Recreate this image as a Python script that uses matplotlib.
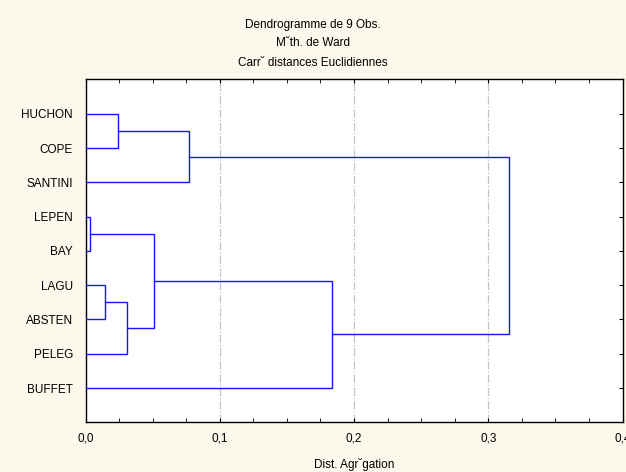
import matplotlib
matplotlib.use("Agg")
import matplotlib.pyplot as plt
from matplotlib.ticker import MultipleLocator, FuncFormatter

plt.rcParams['font.family'] = ['Liberation Sans', 'DejaVu Sans']
plt.rcParams['font.size'] = 8.5

# observations, top to bottom
labels = ['HUCHON', 'COPE', 'SANTINI', 'LEPEN', 'BAY',
          'LAGU', 'ABSTEN', 'PELEG', 'BUFFET']

# Ward merges: (cluster a, cluster b, aggregation distance)
# new clusters get ids 9, 10, ... in order
merge_a = [0, 9, 3, 5, 12, 11, 14, 10]
merge_b = [1, 2, 4, 6, 7, 13, 8, 15]
merge_h = [0.024, 0.0773, 0.0034, 0.0148, 0.0307, 0.0513, 0.1834, 0.3155]

bg = '#fdf8ec'
blue = '#1515ff'

fig = plt.figure(figsize=(6.26, 4.72), dpi=100, facecolor=bg)
ax = fig.add_axes([0.1366, 0.1053, 0.858, 0.7263])
ax.set_facecolor('white')

pos = {i: i + 1 for i in range(len(labels))}
height = {i: 0.0 for i in range(len(labels))}
for k, (a, b, h) in enumerate(zip(merge_a, merge_b, merge_h)):
    ya, yb = pos[a], pos[b]
    ax.plot([height[a], h, h, height[b]], [ya, ya, yb, yb],
            color=blue, lw=1.0, solid_joinstyle='miter', zorder=3)
    node = len(labels) + k
    pos[node] = (ya + yb) / 2
    height[node] = h

for g in [0.1, 0.2, 0.3]:
    ax.axvline(g, color='#c4c4c4', lw=0.9, ls='-.', zorder=1)

ax.set_xlim(0, 0.4)
ax.set_ylim(len(labels) + 1, 0)

ax.set_yticks(range(1, len(labels) + 1))
ax.set_yticklabels(labels)
ax.tick_params(axis='y', which='both', left=False, right=True,
               direction='in', length=3, pad=9)

ax.xaxis.set_major_locator(MultipleLocator(0.1))
ax.xaxis.set_minor_locator(MultipleLocator(0.025))
ax.xaxis.set_major_formatter(FuncFormatter(lambda v, p: f'{v:.1f}'.replace('.', ',')))
ax.tick_params(axis='x', which='both', top=True, bottom=True,
               direction='in', length=3, pad=7)

for s in ax.spines.values():
    s.set_linewidth(1.0)

ax.set_xlabel('Dist. Agr˘gation', labelpad=10)

fig.text(0.5, 0.947, 'Dendrogramme de 9 Obs.', ha='center', va='center')
fig.text(0.5, 0.909, 'M˘th. de Ward', ha='center', va='center')
fig.text(0.5, 0.866, 'Carr˘ distances Euclidiennes', ha='center', va='center')

fig.savefig('out.png', dpi=100, facecolor=bg)
